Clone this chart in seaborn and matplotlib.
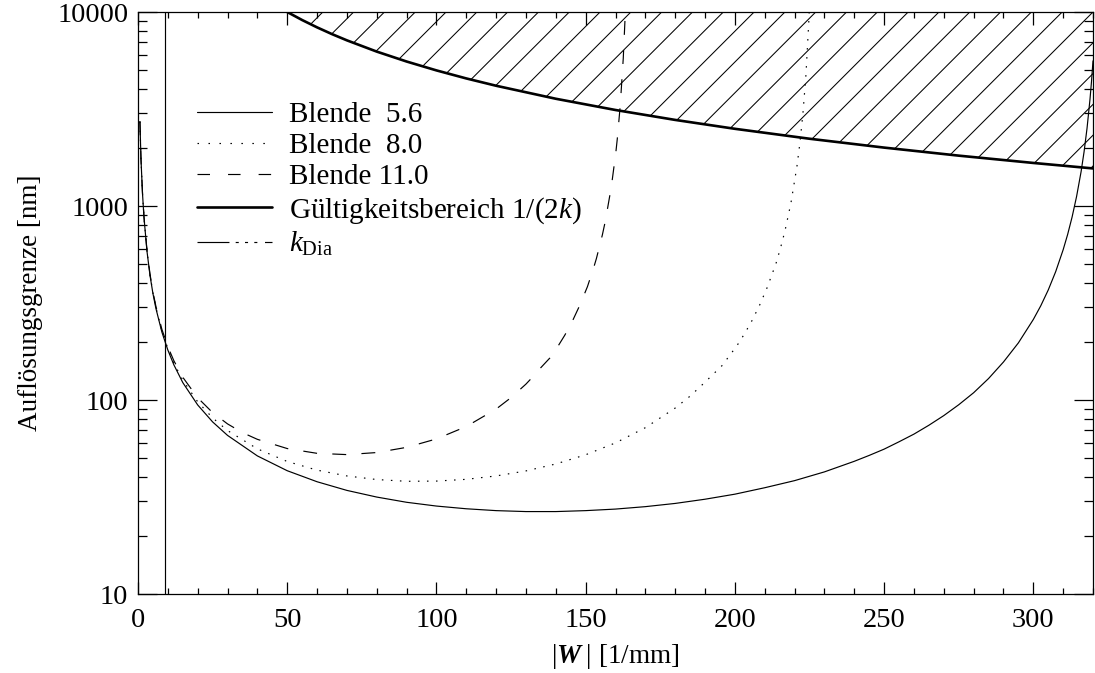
import numpy as np
import matplotlib
matplotlib.use('Agg')
import matplotlib.pyplot as plt
import seaborn as sns
from matplotlib.lines import Line2D
from matplotlib.patches import Polygon
from matplotlib.collections import LineCollection
from matplotlib.ticker import MultipleLocator, LogLocator, NullFormatter

# ---- data ----
k56 = [0.64, 1, 1.5, 2, 3, 4, 5, 6, 8, 10, 12, 15, 20, 25, 30, 40, 50, 60, 70, 80,
       90, 100, 110, 120, 130, 140, 150, 160, 170, 180, 190, 200, 210, 220, 230, 240,
       245, 250, 255, 260, 265, 270, 275, 280, 285, 290, 295, 300, 302.5, 305, 307.5,
       310, 311.5, 313, 314.5, 316, 317, 318, 319, 319.5, 320]
d56 = [2721, 1744, 1165, 875, 586, 441, 354, 296.5, 224, 181, 152, 123, 94.3, 77.1,
       65.7, 51.5, 43.2, 37.9, 34.2, 31.6, 29.7, 28.4, 27.5, 26.9, 26.6, 26.6, 26.9,
       27.4, 28.2, 29.3, 30.8, 32.7, 35.3, 38.4, 42.6, 48.3,
       51.8, 55.8, 60.9, 66.7, 74.1, 83.1, 94.5, 109, 129, 157, 197, 260, 306, 369, 459,
       595, 713, 878, 1120, 1500, 1899, 2515, 3560, 4384, 5600]

k80 = [0.64, 1, 1.5, 2, 3, 4, 5, 6, 8, 10, 12, 15, 20, 25, 30, 40, 50, 60, 70, 80,
       90, 100, 110, 120, 130, 140, 150, 160, 170, 180, 185, 190, 195.7, 200.7, 203.2,
       205.7, 208.2, 210.7, 212.2, 213.8, 215.3, 216.8, 218.8, 220.8, 221.8, 222.8,
       223.8, 224.8, 225.3]
d80 = [2724, 1747, 1168, 878, 589, 444, 357.5, 299.6, 227.4, 184.1, 155.3, 126.5,
       97.9, 80.9, 69.6, 56.0, 48.2, 43.5, 40.6, 38.9, 38.1, 38.2, 39.0, 40.6, 43.1,
       46.8, 52.2, 60.1, 72.0, 90.9, 104.7, 123.6, 150.4, 190.6, 219, 256, 306, 376,
       434, 507, 608, 746, 1039, 1603, 2119, 2993, 4710, 9080, 14790]

k110 = [0.64, 1, 1.5, 2, 3, 4, 5, 6, 8, 10, 12, 15, 20, 25, 30, 35, 40, 50, 60, 70,
        80, 90, 100, 110, 120, 125, 130, 132.5, 135, 138.0, 140.5, 143.0, 145.5, 148.0,
        150.6, 152.6, 153.6, 155.6, 156.6, 158.6, 160.1, 160.6, 161.6, 162.6, 163.2,
        163.6]
d110 = [2728, 1751, 1172, 882, 593, 448, 361, 304, 231.5, 188.3, 159.6, 131.0, 102.7,
        86.1, 75.3, 67.9, 62.7, 56.2, 53.1, 52.3, 53.6, 57.0, 63.0, 73.0, 89.8, 102.9,
        120.8, 132.7, 146.9, 164.6, 186.9, 215.7, 254, 307, 384, 476, 536, 710, 837,
        1255, 1881, 2218, 3312, 5771, 9258, 14226]

k_bound = [50, 55, 60, 65, 70, 80, 90, 100, 110, 120, 140, 160, 180, 200, 225, 250,
           275, 300, 320]
d_bound = [10000, 9091, 8333, 7692, 7143, 6250, 5556, 5000, 4545, 4167, 3571, 3125,
           2778, 2500, 2222, 2000, 1818, 1667, 1562]

k_dia = 9.2

labels = ['Blende  5.6', 'Blende  8.0', 'Blende 11.0',
          r'Gültigkeitsbereich 1/(2$k$)', r'$k_{\mathrm{Dia}}$']
x_ticks = [0, 50, 100, 150, 200, 250, 300]
y_ticks = [10, 100, 1000, 10000]
y_ticklabels = ['10', '100', '1000', '10000']

# ---- style ----
sns.set_theme(style='ticks')
plt.rcParams.update({
    'font.family': ['Liberation Serif', 'DejaVu Serif'],
    'font.size': 20.5,
    'mathtext.fontset': 'custom',
    'mathtext.rm': 'Liberation Serif',
    'mathtext.it': 'Liberation Serif:italic',
    'mathtext.bf': 'Liberation Serif:italic:bold',
    'lines.scale_dashes': False,
    'axes.linewidth': 0.9,
    'axes.edgecolor': 'black',
    'axes.labelcolor': 'black',
    'text.color': 'black',
    'xtick.color': 'black',
    'ytick.color': 'black',
})

fig = plt.figure(figsize=(10.95, 6.73), dpi=100)
W, H = 955, 582
ax = fig.add_axes([138 / 1095, 79 / 673, W / 1095, H / 673])
ax.set_facecolor('white')

# hatched validity region
verts = np.column_stack([k_bound, d_bound]).tolist() + [[k_bound[-1], 20000], [k_bound[0], 20000]]
poly = Polygon(verts, closed=True, facecolor='none', edgecolor='none', transform=ax.transData)
ax.add_patch(poly)
segs = [[(n / 31 - H / W, 0), (n / 31, 1)] for n in range(0, 62)]
lc = LineCollection(segs, colors='black', linewidths=0.75, transform=ax.transAxes)
ax.add_collection(lc, autolim=False)
lc.set_clip_path(poly)

lw = 0.85
sns.lineplot(x=k56, y=d56, ax=ax, color='black', lw=lw, linestyle='-', sort=False, estimator=None)
sns.lineplot(x=k80, y=d80, ax=ax, color='black', lw=lw, linestyle=(0, (1.1, 5.4)), sort=False, estimator=None)
sns.lineplot(x=k110, y=d110, ax=ax, color='black', lw=lw, linestyle=(0, (10, 11)), sort=False, estimator=None)
sns.lineplot(x=k_bound, y=d_bound, ax=ax, color='black', lw=1.9, linestyle='-', sort=False, estimator=None)
ax.axvline(k_dia, color='black', lw=lw)

ax.set_yscale('log')
ax.set_xlim(0, 320)
ax.set_ylim(10, 10000)

ax.set_xticks(x_ticks)
ax.set_xticklabels([str(v) for v in x_ticks])
ax.xaxis.set_minor_locator(MultipleLocator(10))
ax.set_yticks(y_ticks)
ax.set_yticklabels(y_ticklabels)
ax.yaxis.set_minor_locator(LogLocator(base=10, subs=np.arange(2, 10)))
ax.yaxis.set_minor_formatter(NullFormatter())

ax.tick_params(which='both', direction='in', top=True, right=True, width=0.9, labelsize=20.5)
ax.tick_params(axis='x', which='major', length=9, pad=10)
ax.tick_params(axis='x', which='minor', length=4.5)
ax.tick_params(axis='y', which='major', length=13.5, pad=7)
ax.tick_params(axis='y', which='minor', length=6.5)
for s in ax.spines.values():
    s.set_visible(True)
    s.set_color('black')

ax.set_xlabel(r'$|\mathbf{W}\;|$ [1/mm]', fontsize=19.5)
ax.set_ylabel('Auflösungsgrenze [nm]', fontsize=19.5)
ax.xaxis.set_label_coords(0.5, -0.083)
ax.yaxis.set_label_coords(-0.099, 0.5)

lines = ax.get_lines()
handles = [lines[0],
           Line2D([], [], color='black', lw=lw, linestyle=(0, (1.1, 6.8))),
           Line2D([], [], color='black', lw=lw, linestyle=(0, (9, 13))),
           lines[3],
           Line2D([], [], color='black', lw=lw,
                  linestyle=(0, (23, 4.5, 2.2, 4.5, 2.2, 4.5, 2.2, 5.5)))]
ax.legend(handles, labels, loc='upper left', bbox_to_anchor=(0.0615, 0.846),
          frameon=False, borderpad=0, borderaxespad=0, handlelength=2.57,
          handletextpad=0.6, labelspacing=0.16, fontsize=21)

fig.savefig('out.png', dpi=100, facecolor='white')
